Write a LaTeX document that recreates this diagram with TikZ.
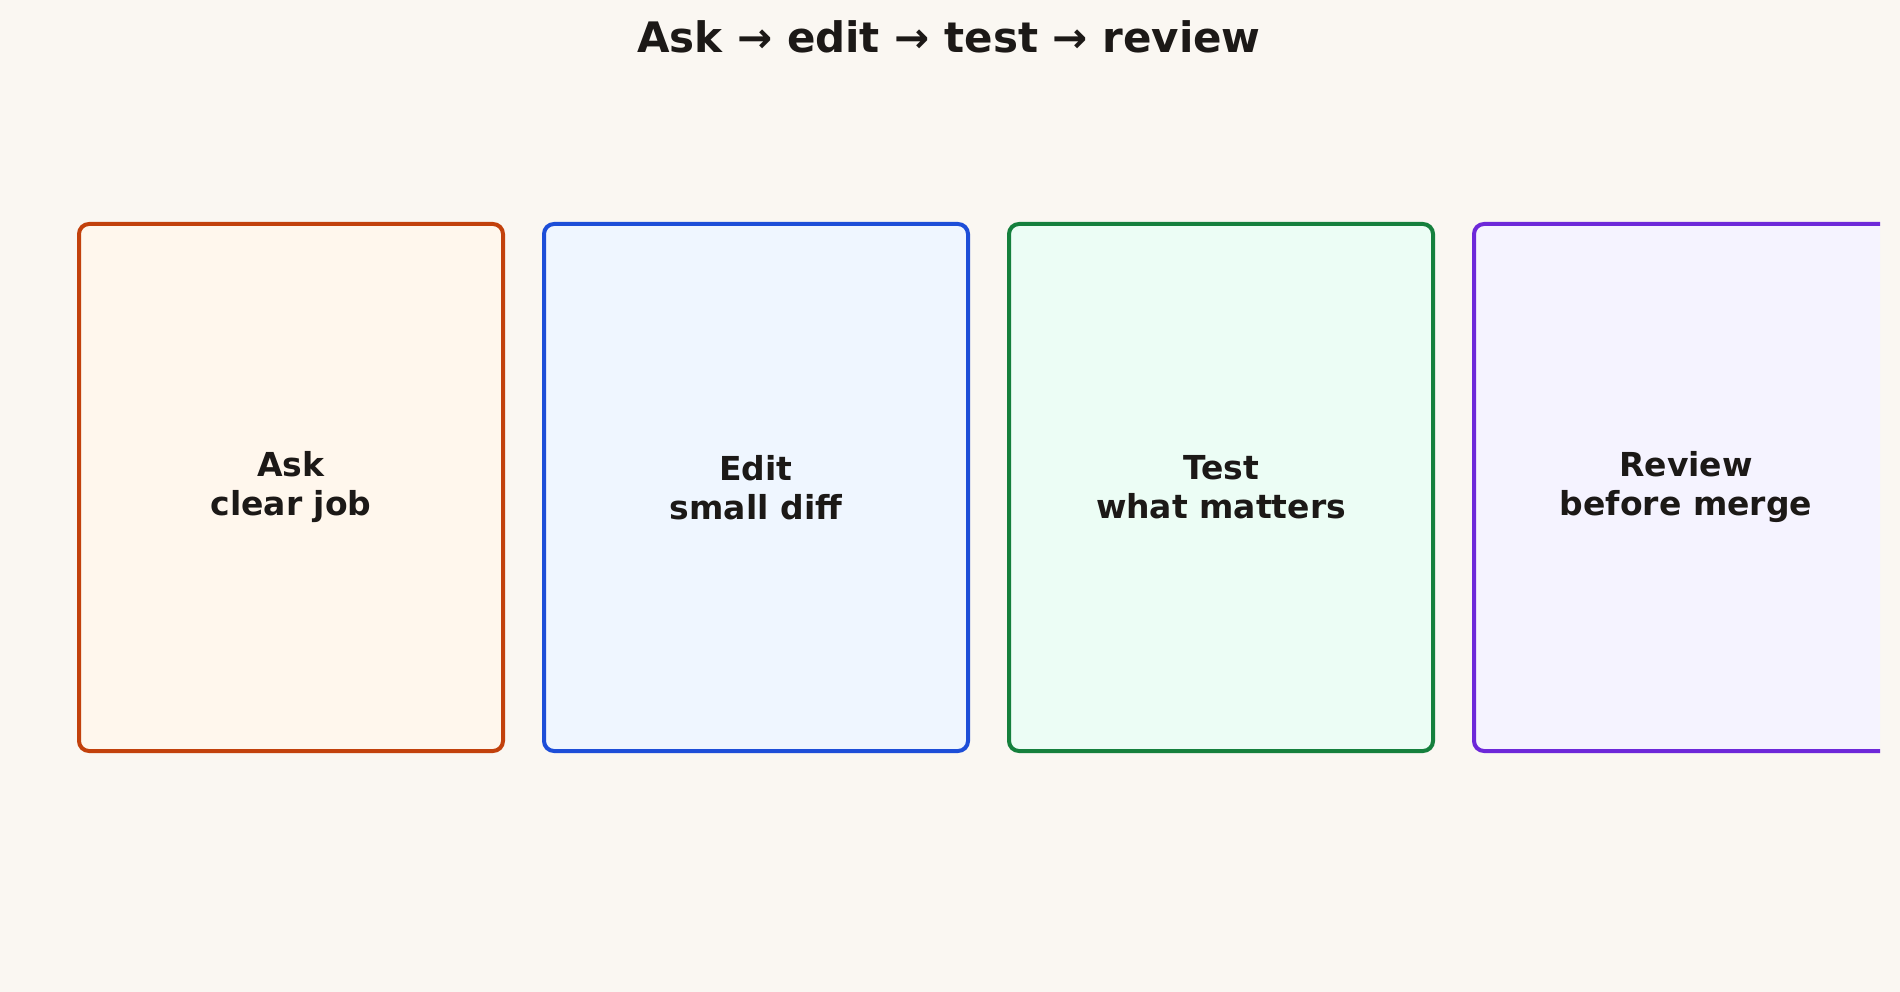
\documentclass[tikz,border=0pt]{standalone}
\usepackage{fontspec}
\setmainfont{DejaVu Sans}
\usepackage{tikz}
\usetikzlibrary{positioning}
\definecolor{bgcol}{HTML}{FAF7F2}
\definecolor{inkcol}{HTML}{1C1917}
\definecolor{askline}{HTML}{C2410C}
\definecolor{askfill}{HTML}{FFF7ED}
\definecolor{editline}{HTML}{1D4ED8}
\definecolor{editfill}{HTML}{EFF6FF}
\definecolor{testline}{HTML}{15803D}
\definecolor{testfill}{HTML}{ECFDF5}
\definecolor{reviewline}{HTML}{6D28D9}
\definecolor{reviewfill}{HTML}{F5F3FF}
\tikzset
{
    stagenode/.style = {rectangle, rounded corners=10pt, line width=4pt, align=center, minimum width=424pt, minimum height=527pt, text=inkcol, font=\fontsize{33}{39}\selectfont\bfseries},
    titlenode/.style = {anchor=base, text=inkcol, font=\fontsize{42}{48}\selectfont\bfseries}
}

\begin{document}
\begin{tikzpicture}[x=1pt, y=-1pt, node distance=37pt]
    \fill [bgcol] (0,0) rectangle (1900,992);
    \useasboundingbox (0,0) rectangle (1900,992);
    \node [titlenode] (title) at (949,53) {Ask → edit → test → review};
    \begin{scope}
        \clip (0,0) rectangle (1880,992);
        \node [stagenode,draw=askline,fill=askfill] (ask) at (291,487.5) {Ask \\ clear job};
        \node [stagenode,draw=editline,fill=editfill,right=of ask] (edit) {Edit \\ small diff};
        \node [stagenode,draw=testline,fill=testfill,right=of edit] (test) {Test \\ what matters};
        \node [stagenode,draw=reviewline,fill=reviewfill,right=of test] (review) {Review \\ before merge};
    \end{scope}
\end{tikzpicture}
\end{document}
